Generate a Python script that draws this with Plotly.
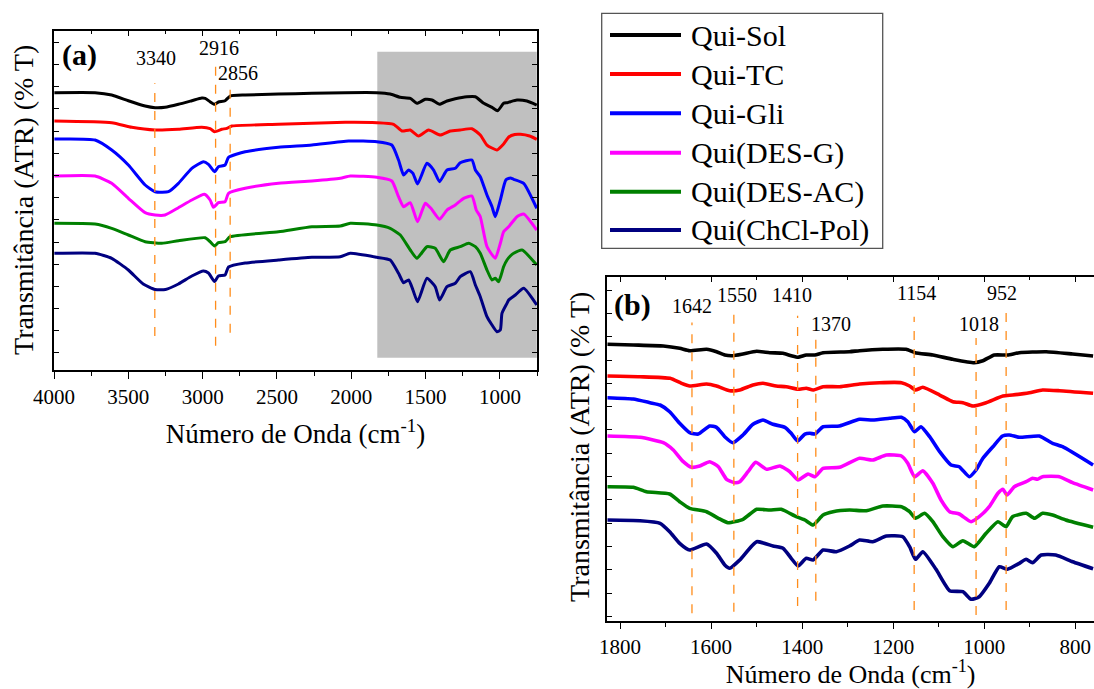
import plotly.graph_objects as go

FONT = "Liberation Serif, Times New Roman, serif"

names = ["Qui-Sol", "Qui-TC", "Qui-Gli", "Qui(DES-G)", "Qui(DES-AC)", "Qui(ChCl-Pol)"]
colors = ["#000000", "#FF0000", "#0000FF", "#FF00FF", "#008000", "#000080"]

# ---------------- Panel (a): 4000-750 cm-1 (offset transmittance, a.u.) ----------------
wn_a_sol = [3998, 3724, 3612, 3500, 3387, 3320, 3253, 3163, 3073, 3006, 2983, 2950, 2920, 2894, 2849, 2815, 2714, 2490, 2265, 2041, 1828, 1738, 1670, 1603, 1558, 1502, 1457, 1406, 1356, 1300, 1222, 1165, 1109, 1053, 1015, 975, 952, 930, 885, 818, 752]
t_a_sol = [277.3, 277.3, 275, 269.3, 264, 262.3, 262.7, 265.7, 269.3, 272, 271.7, 268.3, 265.7, 268, 269.3, 274, 275, 276, 276.7, 277.3, 277.3, 276, 272.7, 271.7, 266.7, 270.7, 270, 265.7, 269, 271.3, 273.3, 273.3, 266.7, 262.7, 259.3, 266.7, 267.3, 268.3, 270, 269, 265]

wn_a_tc = [3998, 3612, 3477, 3320, 3163, 3006, 2950, 2920, 2871, 2837, 2804, 2490, 2041, 1828, 1715, 1659, 1603, 1547, 1480, 1401, 1334, 1267, 1188, 1132, 1087, 1020, 975, 940, 900, 862, 800, 752]
t_a_tc = [249, 247.3, 242.7, 240, 240.7, 242.7, 241.3, 238.3, 240.7, 241.7, 244, 245.7, 247.7, 247.3, 245.7, 239, 240, 234, 240, 235, 239, 240, 241.3, 235, 225, 220, 226, 233, 235.5, 235.7, 234, 230.7]

wn_a_gli = [3998, 3724, 3612, 3500, 3387, 3320, 3230, 3163, 3073, 2995, 2961, 2920, 2894, 2849, 2826, 2714, 2490, 2265, 2018, 1828, 1727, 1682, 1648, 1614, 1585, 1554, 1491, 1446, 1406, 1356, 1300, 1267, 1188, 1165, 1132, 1087, 1053, 1031, 997, 960, 930, 907, 840, 752]
t_a_gli = [231, 230, 220, 205, 185, 178.3, 178.3, 186.7, 201.7, 208.3, 205.7, 198.3, 203.3, 205, 212.7, 218.3, 222.7, 225, 229, 228.3, 225, 210, 195, 200, 196.7, 186, 206.7, 200, 188.3, 200, 201.7, 207.3, 210, 200, 193.3, 175, 163.3, 153.3, 170, 190, 192, 190.7, 186.7, 161.7]

wn_a_desg = [3998, 3724, 3612, 3500, 3387, 3320, 3253, 3163, 3073, 2988, 2950, 2927, 2894, 2849, 2826, 2714, 2490, 2265, 2074, 2007, 1828, 1727, 1682, 1648, 1603, 1554, 1502, 1464, 1406, 1356, 1300, 1244, 1188, 1159, 1132, 1087, 1031, 997, 975, 941, 885, 840, 752]
t_a_desg = [194, 194, 186.7, 171.7, 157.3, 155, 155, 162.3, 170, 175.7, 170, 162.7, 167.3, 168.3, 176.7, 181.7, 186.7, 189, 191.7, 194, 192.7, 189, 173.3, 163.3, 167.3, 148.3, 166.7, 161.7, 150.7, 160, 165, 171.7, 174, 160, 153.3, 123.3, 111.7, 126.7, 138.3, 143.3, 153.3, 156, 140]

wn_a_desac = [3998, 3724, 3612, 3500, 3387, 3275, 3163, 2983, 2950, 2920, 2894, 2849, 2815, 2490, 2265, 2074, 2007, 1828, 1738, 1670, 1603, 1558, 1491, 1435, 1379, 1334, 1267, 1210, 1165, 1132, 1087, 1053, 1031, 1008, 975, 952, 930, 907, 851, 752]
t_a_desac = [146.7, 146, 141.7, 135, 128.3, 126.7, 129.3, 132.3, 128.3, 124, 127.3, 128.3, 133.3, 138.3, 143.3, 144, 146.7, 145, 141.7, 135, 120, 111.7, 123.3, 121.7, 108.3, 120, 123.3, 126.7, 123.3, 116.7, 100, 90, 91.7, 88.3, 103.3, 110, 114, 116.7, 120, 105]

wn_a_pol = [3998, 3724, 3612, 3500, 3400, 3320, 3250, 3163, 3073, 2995, 2961, 2920, 2894, 2849, 2826, 2714, 2490, 2265, 2074, 2007, 1828, 1738, 1682, 1648, 1614, 1585, 1554, 1491, 1435, 1406, 1356, 1300, 1267, 1199, 1165, 1132, 1087, 1053, 1020, 997, 986, 952, 941, 896, 840, 752]
t_a_pol = [116.7, 116.7, 111.7, 100, 86, 80.5, 80.5, 86, 94, 99, 97, 88.5, 94, 95, 103, 107, 110, 112.7, 113.3, 116.7, 112.7, 110, 96.7, 87.3, 90, 80, 68.3, 91.7, 83.3, 70, 83.3, 86.7, 93.3, 98.3, 85, 73.3, 53.3, 45, 38.3, 40, 56.7, 66.7, 70, 75, 81.7, 65]

# ---------------- Panel (b): 1830-760 cm-1 ----------------
wn_b_sol = [1828, 1771, 1705, 1669, 1647, 1610, 1588, 1570, 1552, 1530, 1500, 1471, 1442, 1424, 1409, 1391, 1372, 1354, 1296, 1274, 1223, 1172, 1152, 1113, 1069, 1022, 1003, 978, 949, 923, 864, 806, 761]
t_b_sol = [276.7, 276, 275, 272.7, 270.3, 271.7, 269.3, 266, 265.3, 267, 269.7, 268.3, 267.7, 265.3, 263.7, 266, 266, 268.3, 269.3, 270.3, 271.7, 271.7, 268.3, 266, 261.7, 258.3, 260.3, 266, 266, 268.3, 269.3, 267, 265]

wn_b_tc = [1828, 1756, 1690, 1665, 1647, 1610, 1588, 1559, 1537, 1508, 1486, 1457, 1435, 1409, 1391, 1376, 1354, 1318, 1274, 1230, 1182, 1164, 1151, 1135, 1098, 1069, 1047, 1025, 996, 959, 938, 901, 872, 835, 761]
t_b_tc = [245, 244.3, 242.7, 237.7, 235, 237, 235, 230.3, 231, 236, 237.7, 235, 234.3, 231.7, 232.7, 231, 234.3, 234.3, 237, 238.3, 238.3, 235, 231, 233.7, 226, 219.3, 218.3, 215, 218.3, 225, 226, 228.3, 231, 230.3, 227.7]

wn_b_gli = [1828, 1771, 1734, 1712, 1691, 1669, 1647, 1628, 1603, 1588, 1570, 1552, 1530, 1508, 1486, 1464, 1438, 1424, 1410, 1394, 1383, 1372, 1354, 1318, 1274, 1245, 1208, 1182, 1168, 1153, 1139, 1120, 1098, 1073, 1055, 1033, 1018, 1003, 981, 960, 945, 923, 879, 850, 828, 761]
t_b_gli = [223.3, 222, 218.3, 216, 209.3, 197.7, 188.3, 187, 195, 193.7, 184.3, 178.3, 186, 196.7, 201, 196.7, 193.7, 187.7, 180, 187, 187.7, 187, 194.3, 195, 201.7, 201, 202.7, 203.7, 199.3, 189.3, 194.3, 184.3, 169.3, 156, 154.3, 144.3, 151, 162.7, 174.3, 185, 186, 183.7, 185, 177.7, 174.3, 156]

wn_b_desg = [1828, 1756, 1705, 1683, 1661, 1643, 1625, 1603, 1584, 1566, 1548, 1537, 1519, 1502, 1478, 1449, 1427, 1409, 1387, 1372, 1354, 1318, 1274, 1245, 1215, 1182, 1168, 1153, 1135, 1113, 1095, 1076, 1055, 1029, 1011, 989, 970, 959, 950, 934, 908, 894, 883, 872, 835, 806, 761]
t_b_desg = [185, 183.7, 178.3, 171, 159.3, 153.7, 155, 159.3, 154.3, 141.7, 138.3, 139.3, 149.3, 158.7, 151.7, 155, 149.3, 141, 147, 144.3, 152.7, 153.7, 162.7, 161, 166, 165, 157.7, 144.3, 150.3, 137.7, 121, 109.3, 107, 99.3, 104.3, 114.3, 127.7, 131.7, 126, 134.3, 139.3, 142.7, 141.7, 144.3, 144.3, 138.3, 131]

wn_b_desac = [1828, 1771, 1742, 1691, 1669, 1647, 1610, 1584, 1563, 1530, 1500, 1471, 1446, 1413, 1394, 1376, 1354, 1332, 1296, 1259, 1223, 1182, 1164, 1151, 1131, 1113, 1091, 1069, 1047, 1022, 996, 970, 952, 938, 908, 890, 872, 850, 821, 761]
t_b_desac = [134.3, 133.7, 129.3, 127, 119.3, 112.7, 109.3, 102.7, 98.3, 101.7, 111.7, 111, 111.7, 104.3, 101, 96, 106, 109.3, 111, 110.3, 115, 114.3, 109.3, 102.7, 107.7, 99.3, 84.3, 74.3, 80.3, 74.3, 87.7, 99.3, 94.3, 104.3, 107.7, 102.7, 107.7, 106, 101, 93.7]

wn_b_pol = [1828, 1756, 1712, 1691, 1669, 1647, 1610, 1588, 1570, 1559, 1537, 1500, 1464, 1442, 1424, 1409, 1391, 1376, 1354, 1325, 1296, 1274, 1245, 1215, 1179, 1164, 1151, 1135, 1106, 1076, 1047, 1029, 1011, 989, 967, 949, 923, 908, 894, 875, 843, 806, 761]
t_b_pol = [101, 100.3, 97.7, 89.3, 77.7, 71, 77, 67.7, 56, 52.7, 61, 79.3, 75, 72.7, 62.7, 55, 62.7, 61, 71, 69.3, 75, 81, 79.3, 85, 84.3, 74.3, 61.7, 69.3, 51.7, 30.3, 29.3, 21.7, 24.3, 37.7, 54.3, 51.7, 57.7, 61.7, 58.3, 66, 66, 59.3, 52.3]

series_a = [(wn_a_sol, t_a_sol), (wn_a_tc, t_a_tc), (wn_a_gli, t_a_gli),
            (wn_a_desg, t_a_desg), (wn_a_desac, t_a_desac), (wn_a_pol, t_a_pol)]
series_b = [(wn_b_sol, t_b_sol), (wn_b_tc, t_b_tc), (wn_b_gli, t_b_gli),
            (wn_b_desg, t_b_desg), (wn_b_desac, t_b_desac), (wn_b_pol, t_b_pol)]

# Marked bands
peaks_a_label = ["3340", "2916", "2856"]
peaks_a_pos = [3322, 2913, 2815]
peaks_b = [1642, 1550, 1410, 1370, 1154, 1018, 952]

# Highlighted fingerprint region in panel (a)
region_a = [1825, 752]

fig = go.Figure()

for (wn, t), nm, c in zip(series_a, names, colors):
    fig.add_trace(go.Scatter(x=wn, y=t, mode="lines", name=nm, showlegend=False,
                             line=dict(color=c, width=3, shape="spline", smoothing=0.5),
                             xaxis="x", yaxis="y"))
for (wn, t), nm, c in zip(series_b, names, colors):
    fig.add_trace(go.Scatter(x=wn, y=t, mode="lines", name=nm, showlegend=False,
                             line=dict(color=c, width=3.6, shape="spline", smoothing=0.5),
                             xaxis="x2", yaxis="y2"))

# Empty traces that activate the top tick overlay axes
fig.add_trace(go.Scatter(x=[None], y=[None], xaxis="x3", yaxis="y", showlegend=False, hoverinfo="skip"))
fig.add_trace(go.Scatter(x=[None], y=[None], xaxis="x4", yaxis="y2", showlegend=False, hoverinfo="skip"))

axis_common = dict(showgrid=False, zeroline=False, showline=True, linecolor="black",
                   linewidth=1.5, tickcolor="black", automargin=False)

fig.update_layout(
    width=1094, height=689,
    margin=dict(l=0, r=0, t=0, b=0, autoexpand=False),
    paper_bgcolor="white", plot_bgcolor="white",
    font=dict(family=FONT, color="black"),
    showlegend=False,
    xaxis=dict(**axis_common, domain=[0.0494, 0.4909], range=[4000, 750], autorange=False,
               anchor="y", ticks="outside", ticklen=7, tick0=0, dtick=500, mirror=True,
               tickfont=dict(family=FONT, size=21, color="black"),
               minor=dict(ticks="outside", ticklen=4, dtick=250, tick0=0, tickcolor="black"),
               title=dict(text="Número de Onda (cm<sup>-1</sup>)",
                          font=dict(family=FONT, size=27), standoff=16)),
    yaxis=dict(**axis_common, domain=[0.463, 0.9554], range=[0, 339.3], autorange=False,
               anchor="x", ticks="inside", ticklen=5, tick0=17, dtick=22.2,
               showticklabels=False, mirror="ticks"),
    xaxis2=dict(**axis_common, domain=[0.5551, 1.0], range=[1828, 759], autorange=False,
                anchor="y2", ticks="outside", ticklen=6, tick0=0, dtick=200, mirror=True,
                tickfont=dict(family=FONT, size=21, color="black"),
                minor=dict(ticks="outside", ticklen=4, dtick=100, tick0=0, tickcolor="black"),
                title=dict(text="Número de Onda (cm<sup>-1</sup>)",
                           font=dict(family=FONT, size=26), standoff=14)),
    yaxis2=dict(**axis_common, domain=[0.0987, 0.5975], range=[0, 343.7], autorange=False,
                anchor="x2", ticks="inside", ticklen=5, tick0=4.7, dtick=23.3,
                showticklabels=False, mirror=False),
    xaxis3=dict(overlaying="x", side="top", anchor="y", range=[4000, 750], autorange=False,
                showgrid=False, zeroline=False, showline=False, showticklabels=False,
                automargin=False, ticks="inside", ticklen=5, tick0=0, dtick=500, tickcolor="black",
                minor=dict(ticks="inside", ticklen=3, dtick=250, tick0=0, tickcolor="black")),
    xaxis4=dict(overlaying="x2", side="top", anchor="y2", range=[1828, 759], autorange=False,
                showgrid=False, zeroline=False, showline=False, showticklabels=False,
                automargin=False, ticks="inside", ticklen=5, tick0=0, dtick=200, tickcolor="black",
                minor=dict(ticks="inside", ticklen=3, dtick=100, tick0=0, tickcolor="black")),
)

shapes = []
# grey highlight region in (a)
shapes.append(dict(type="rect", xref="x", yref="y", x0=region_a[0], x1=region_a[1],
                   y0=12.3, y1=318.3, fillcolor="#C0C0C0", line=dict(width=0), layer="below"))

DASH = dict(color="#FF8C1A", width=1.3, dash="dash")
ext_a = [(34, 286.7), (24.3, 306.6), (37.3, 280.6)]
for p, (y0, y1) in zip(peaks_a_pos, ext_a):
    shapes.append(dict(type="line", xref="x", yref="y", x0=p, x1=p, y0=y0, y1=y1, line=DASH))
ext_b = [(7.7, 298.4), (9.3, 311), (15, 305.2), (20.3, 281.4), (11, 304.2), (6, 283.1), (11, 313.7)]
for p, (y0, y1) in zip(peaks_b, ext_b):
    shapes.append(dict(type="line", xref="x2", yref="y2", x0=p, x1=p, y0=y0, y1=y1, line=DASH))

annotations = []
lab_a_xy = [(3314, 311.6), (2890, 321.6), (2765, 297.5)]
for txt, (x, y) in zip(peaks_a_label, lab_a_xy):
    annotations.append(dict(text=txt, x=x, y=y, xref="x", yref="y", showarrow=False,
                            xanchor="center", yanchor="middle",
                            font=dict(family=FONT, size=20, color="black")))
lab_b_xy = [(1642, 315.4), (1543, 325.7), (1422, 325.7), (1337, 297.4), (1148, 328), (1012, 297.4), (960, 328)]
for p, (x, y) in zip(peaks_b, lab_b_xy):
    annotations.append(dict(text=str(p), x=x, y=y, xref="x2", yref="y2", showarrow=False,
                            xanchor="center", yanchor="middle",
                            font=dict(family=FONT, size=20, color="black")))

# panel tags
annotations.append(dict(text="<b>(a)</b>", x=0.0727, y=0.9202, xref="paper", yref="paper",
                        xanchor="center", yanchor="middle", showarrow=False,
                        font=dict(family=FONT, size=30, color="black")))
annotations.append(dict(text="<b>(b)</b>", x=0.5782, y=0.5573, xref="paper", yref="paper",
                        xanchor="center", yanchor="middle", showarrow=False,
                        font=dict(family=FONT, size=30, color="black")))

# y axis titles
for xc, yc in [(0.021, 0.7097), (0.5297, 0.352)]:
    annotations.append(dict(text="Transmitância (ATR) (% T)", x=xc, y=yc, xref="paper", yref="paper",
                            xanchor="center", yanchor="middle", textangle=-90, showarrow=False,
                            font=dict(family=FONT, size=28, color="black")))

# legend (box, line samples and names)
W, H = 1094.0, 689.0
shapes.append(dict(type="rect", xref="paper", yref="paper", x0=601.7 / W, x1=882.7 / W,
                   y0=1 - 248.3 / H, y1=1 - 13.3 / H, line=dict(color="#555555", width=1.3),
                   fillcolor="rgba(0,0,0,0)"))
row_y = [35, 74, 113.3, 152.7, 191.7, 230]
for nm, c, ry in zip(names, colors, row_y):
    shapes.append(dict(type="line", xref="paper", yref="paper", x0=610 / W, x1=681 / W,
                       y0=1 - ry / H, y1=1 - ry / H, line=dict(color=c, width=4)))
    annotations.append(dict(text=nm, x=689 / W, y=1 - ry / H, xref="paper", yref="paper",
                            xanchor="left", yanchor="middle", showarrow=False,
                            font=dict(family=FONT, size=30, color="black")))

fig.update_layout(shapes=shapes, annotations=annotations)

fig.write_html("out.html")
